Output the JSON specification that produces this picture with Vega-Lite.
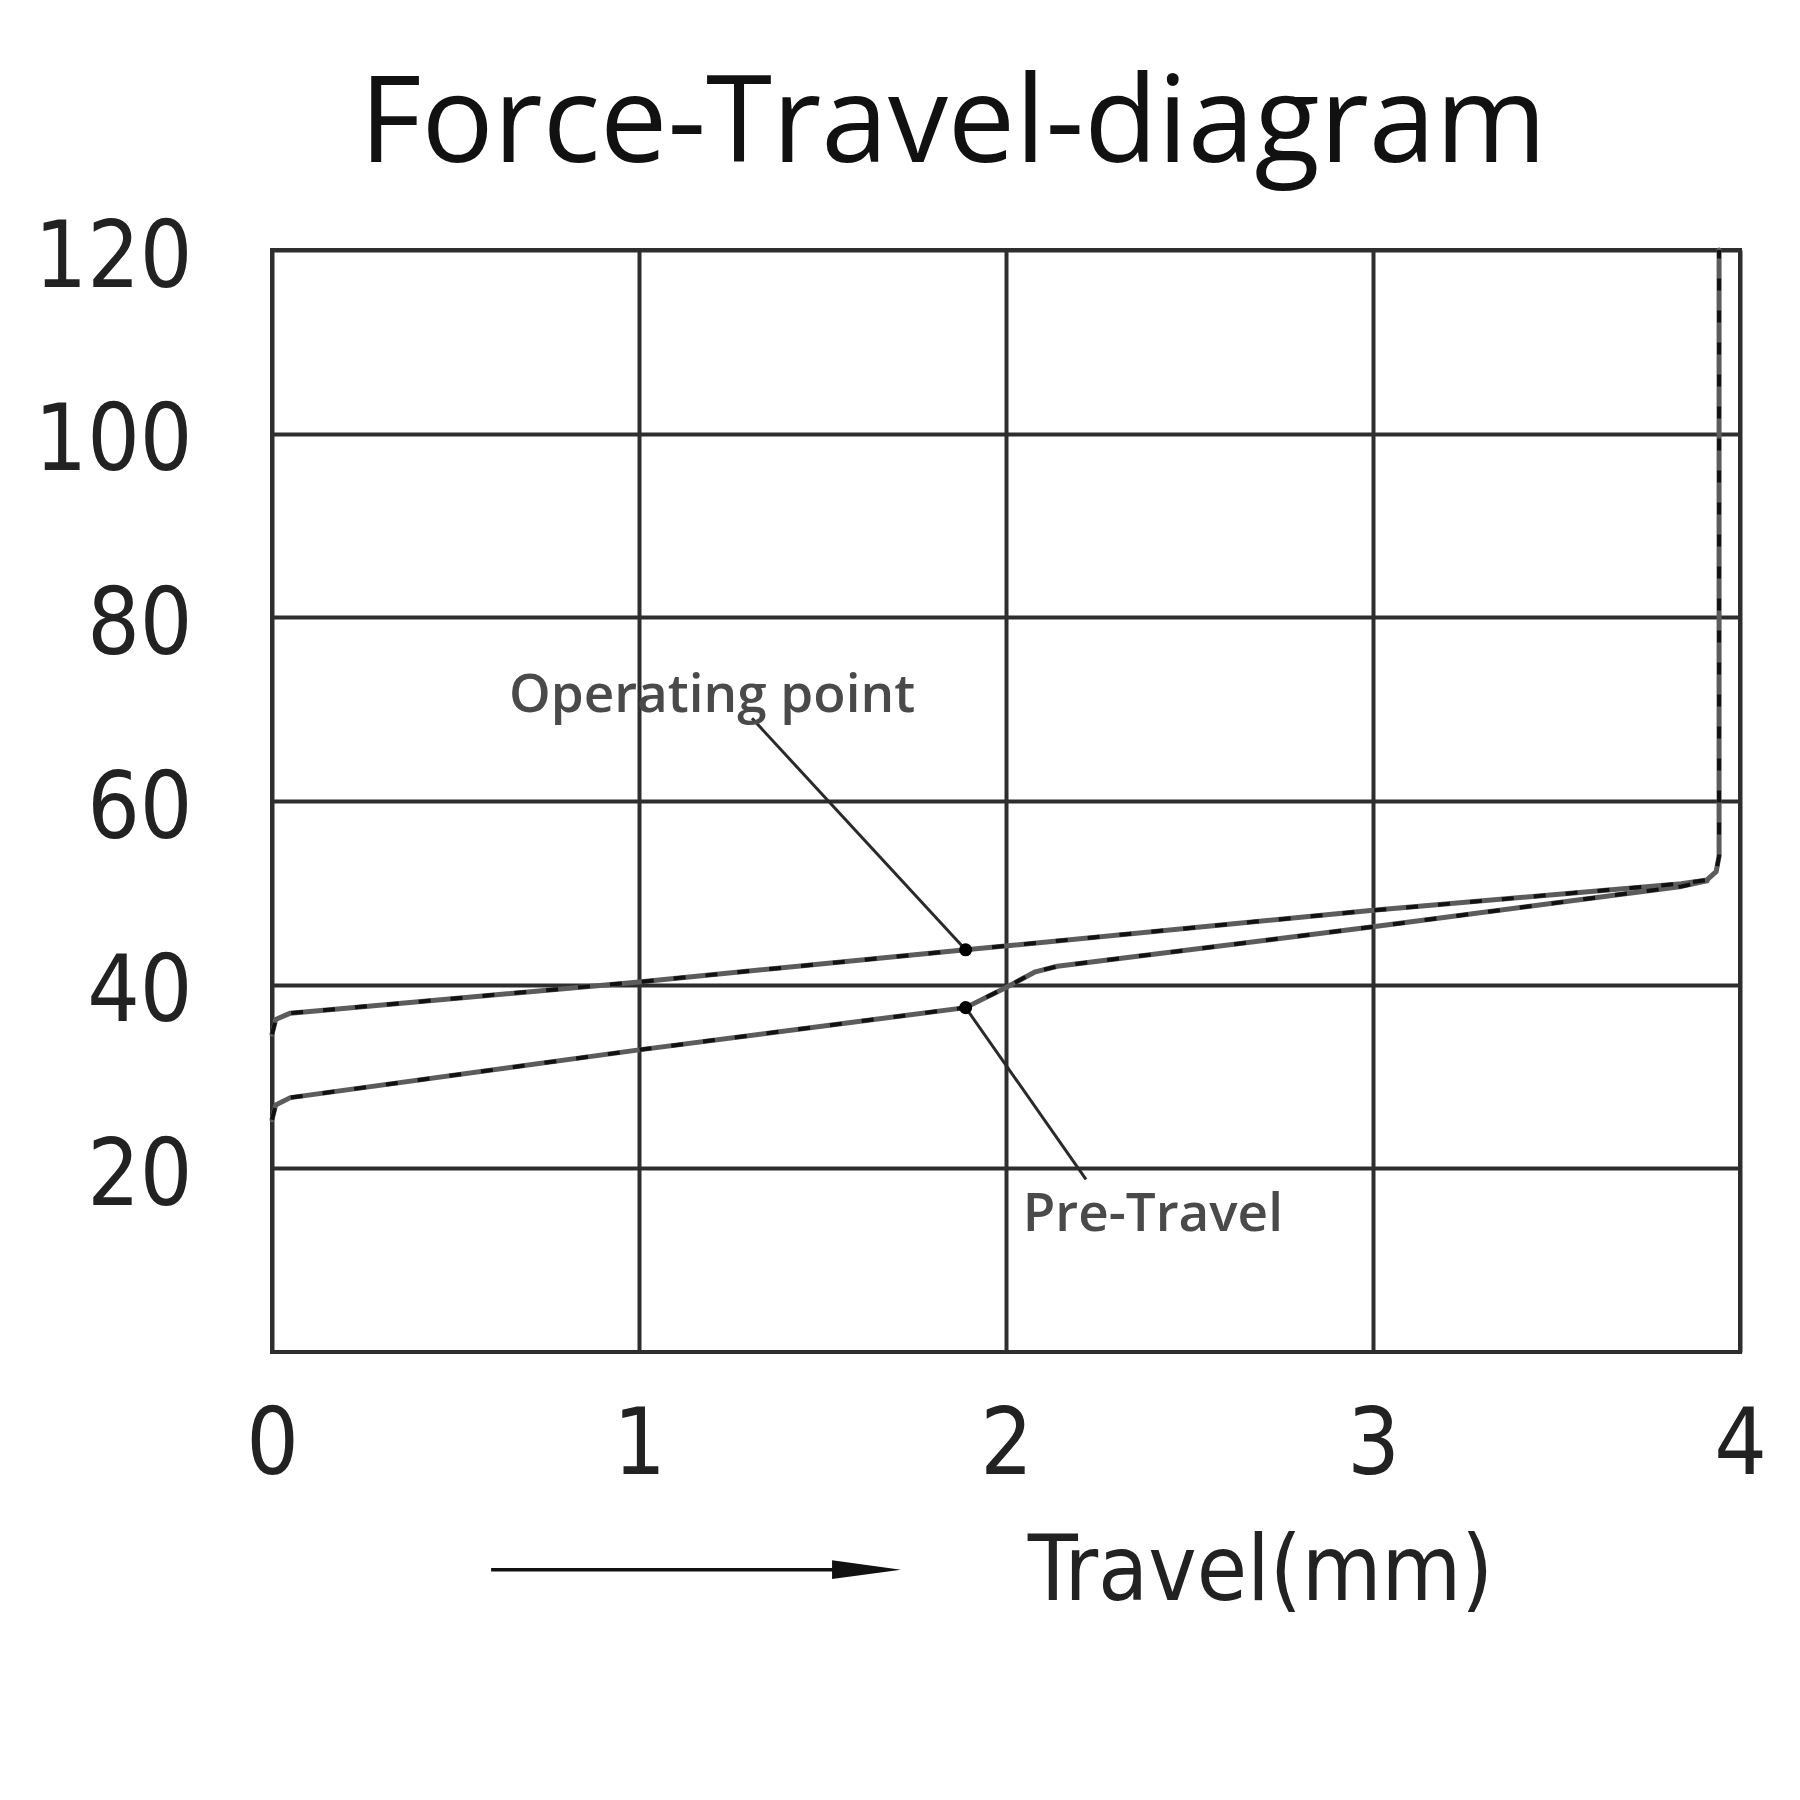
{
  "$schema": "https://vega.github.io/schema/vega-lite/v6.json",
  "width": 1468,
  "height": 1102,
  "autosize": {"type": "none"},
  "padding": {"left": 272, "top": 250, "right": 60, "bottom": 448},
  "background": "white",
  "title": {
    "text": "Force-Travel-diagram",
    "font": "Open Sans",
    "fontSize": 120,
    "fontWeight": "normal",
    "color": "#111111",
    "anchor": "middle",
    "frame": "group",
    "dx": -53,
    "baseline": "alphabetic",
    "offset": -70
  },
  "config": {
    "view": {"stroke": "#2e2e2e", "strokeWidth": 4},
    "axis": {
      "grid": true,
      "gridColor": "#2e2e2e",
      "gridWidth": 4,
      "gridOpacity": 1,
      "domain": false,
      "ticks": false,
      "format": "d",
      "labelColor": "#222222",
      "labelFont": "DejaVu Sans Condensed",
      "labelFontSize": 92,
      "labelOverlap": false,
      "labelBound": false,
      "labelFlush": false
    }
  },
  "datasets": {
    "curves": [
      {"curve": "upper", "i": 0, "travel": 0, "force": 34.6},
      {"curve": "upper", "i": 1, "travel": 0.01, "force": 36.2},
      {"curve": "upper", "i": 2, "travel": 0.05, "force": 36.9},
      {"curve": "upper", "i": 3, "travel": 1.0, "force": 40.3},
      {"curve": "upper", "i": 4, "travel": 1.89, "force": 43.8},
      {"curve": "upper", "i": 5, "travel": 3.0, "force": 48.1},
      {"curve": "upper", "i": 6, "travel": 3.84, "force": 51.0},
      {"curve": "upper", "i": 7, "travel": 3.91, "force": 51.4},
      {"curve": "upper", "i": 8, "travel": 3.935, "force": 52.3},
      {"curve": "upper", "i": 9, "travel": 3.943, "force": 54},
      {"curve": "upper", "i": 10, "travel": 3.943, "force": 120},
      {"curve": "lower", "i": 0, "travel": 0, "force": 25.3},
      {"curve": "lower", "i": 1, "travel": 0.01, "force": 26.9},
      {"curve": "lower", "i": 2, "travel": 0.05, "force": 27.7},
      {"curve": "lower", "i": 3, "travel": 1.0, "force": 32.9},
      {"curve": "lower", "i": 4, "travel": 1.89, "force": 37.5},
      {"curve": "lower", "i": 5, "travel": 2.0, "force": 39.7},
      {"curve": "lower", "i": 6, "travel": 2.08, "force": 41.4},
      {"curve": "lower", "i": 7, "travel": 2.14, "force": 42.0},
      {"curve": "lower", "i": 8, "travel": 3.0, "force": 46.3},
      {"curve": "lower", "i": 9, "travel": 3.84, "force": 50.7},
      {"curve": "lower", "i": 10, "travel": 3.91, "force": 51.3}
    ],
    "markers": [
      {"name": "Operating point", "travel": 1.89, "force": 43.8},
      {"name": "Pre-Travel", "travel": 1.89, "force": 37.5}
    ],
    "leaders": [
      {"name": "Operating point", "travel": 1.308, "force": 69.0, "travel2": 1.89, "force2": 43.8},
      {"name": "Pre-Travel", "travel": 1.89, "force": 37.5, "travel2": 2.218, "force2": 18.8}
    ],
    "labels": [
      {"text": "Operating point", "travel": 1.199, "force": 69.7},
      {"text": "Pre-Travel", "travel": 2.40, "force": 13.2}
    ],
    "arrow": [
      {"travel": 0.597, "travel2": 1.62, "force": -23.7}
    ]
  },
  "layer": [
    {
      "data": {"name": "curves"},
      "mark": {"type": "line", "color": "#5c5c5c", "strokeWidth": 5, "strokeJoin": "round", "strokeCap": "round"},
      "encoding": {
        "x": {
          "field": "travel",
          "type": "quantitative",
          "scale": {"domain": [0, 4], "nice": false, "zero": false},
          "axis": {
            "values": [0, 1, 2, 3, 4],
            "labelPadding": 48,
            "title": "Travel(mm)",
            "titleFont": "DejaVu Sans Condensed",
            "titleFontSize": 91,
            "titleFontWeight": "normal",
            "titleColor": "#222222",
            "titleAlign": "center",
            "titleBaseline": "alphabetic",
            "titleX": 988,
            "titleY": 247
          }
        },
        "y": {
          "field": "force",
          "type": "quantitative",
          "scale": {"domain": [0, 120], "nice": false, "zero": false},
          "axis": {
            "values": [20, 40, 60, 80, 100, 120],
            "labelPadding": 80,
            "labelOffset": 8,
            "title": null
          }
        },
        "detail": {"field": "curve"},
        "order": {"field": "i", "type": "quantitative"}
      }
    },
    {
      "data": {"name": "curves"},
      "mark": {"type": "line", "color": "#111111", "strokeWidth": 4, "strokeDash": [12, 20]},
      "encoding": {
        "x": {"field": "travel", "type": "quantitative"},
        "y": {"field": "force", "type": "quantitative"},
        "detail": {"field": "curve"},
        "order": {"field": "i", "type": "quantitative"}
      }
    },
    {
      "data": {"name": "leaders"},
      "mark": {"type": "rule", "color": "#2a2a2a", "strokeWidth": 3},
      "encoding": {
        "x": {"field": "travel", "type": "quantitative"},
        "y": {"field": "force", "type": "quantitative"},
        "x2": {"field": "travel2"},
        "y2": {"field": "force2"}
      }
    },
    {
      "data": {"name": "markers"},
      "mark": {"type": "point", "filled": true, "color": "#000000", "opacity": 1, "size": 170},
      "encoding": {
        "x": {"field": "travel", "type": "quantitative"},
        "y": {"field": "force", "type": "quantitative"}
      }
    },
    {
      "data": {"name": "labels"},
      "mark": {"type": "text", "font": "Open Sans", "fontSize": 53, "fontWeight": 600, "color": "#4a4a4a", "align": "center", "baseline": "alphabetic"},
      "encoding": {
        "x": {"field": "travel", "type": "quantitative"},
        "y": {"field": "force", "type": "quantitative"},
        "text": {"field": "text"}
      }
    },
    {
      "data": {"name": "arrow"},
      "mark": {"type": "rule", "color": "#111111", "strokeWidth": 3.5},
      "encoding": {
        "x": {"field": "travel", "type": "quantitative"},
        "x2": {"field": "travel2"},
        "y": {"field": "force", "type": "quantitative"}
      }
    },
    {
      "data": {"name": "arrow"},
      "mark": {"type": "point", "filled": true, "color": "#111111", "opacity": 1, "size": 4761, "shape": "M -1 -0.27 L 1 0 L -1 0.27 Z"},
      "encoding": {
        "x": {"field": "travel2", "type": "quantitative"},
        "y": {"field": "force", "type": "quantitative"}
      }
    }
  ]
}
